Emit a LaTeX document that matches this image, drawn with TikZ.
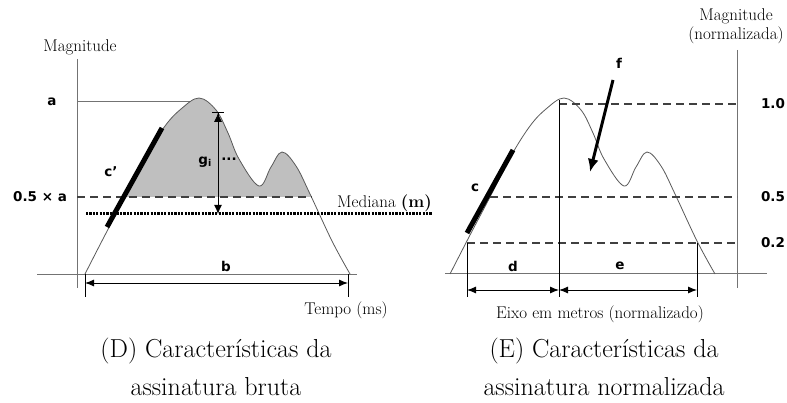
\documentclass[tikz,border=0pt]{standalone}
\usepackage{fontspec}
\newfontfamily\labelfont{DejaVu Sans}
\usetikzlibrary{arrows.meta,positioning}

\begin{document}
\begin{tikzpicture}[
    x=1pt, y=-1pt,
    axis/.style={draw=black!55, line width=0.8pt},
    sig/.style={draw=black!65, line width=0.8pt},
    sigcurve/.style={insert path={plot[smooth, tension=0.6] coordinates {(85,274) (104,237) (125,197) (146,156) (165,126) (181,109) (199,98) (216,110) (228,133) (239,159) (259,186) (271,167) (282,152) (296,166) (310,194) (332,241) (350,274)}}},
    guide/.style={draw=black!75, line width=1.2pt, dash pattern=on 8pt off 5pt},
    median/.style={draw=black, line width=3pt, dash pattern=on 2.2pt off 1.2pt},
    slope/.style={draw=black, line width=5pt},
    dimline/.style={draw=black, line width=0.9pt},
    dimarrow/.style={dimline, {Latex[length=9pt,width=7pt]}-{Latex[length=9pt,width=7pt]}},
    farrow/.style={draw=black, line width=3pt, -{Latex[length=13pt,width=11pt]}},
    lbl/.style={font=\labelfont\bfseries\fontsize{13.5}{15}\selectfont, inner sep=1pt},
    axlabel/.style={font=\fontsize{17}{19.5}\selectfont, inner sep=0pt},
    caption/.style={font=\fontsize{26}{38}\selectfont, align=center, inner sep=0pt, anchor=north}
]
\useasboundingbox (0,0) rectangle (787,403);

% (D) raw signature
\begin{scope}
  \clip (0,0) rectangle (400,197);
  \fill[gray!50, sigcurve] -- cycle;
\end{scope}
\draw[axis] (77,59) -- (77,288);
\draw[axis] (37,274) -- (357,274);
\draw[axis] (77,101) -- (190,101);
\draw[sig, sigcurve];
\draw[guide] (77,197) -- (312,197);
\draw[median] (86,214) -- (432,214);
\draw[slope] (107,227) -- (162,128);

\node[axlabel] (magD) at (80,47) {Magnitude};
\node[lbl] (a) at (52,102) {a};
\node[lbl] (halfa) at (40,197) {0.5 × a};
\node[lbl] (cprime) at (111,172) {c’};
\node[axlabel, anchor=base east] (median) at (432,208) {Mediana \textbf{(m)}};

% height g_i
\coordinate (gtop) at (218,112);
\coordinate (gbot) at (218,214);
\draw[dimline, {Bar[width=12pt]Latex[length=9pt,width=8pt]}-{Latex[length=9pt,width=8pt]}] (gtop) -- (gbot);
\node[lbl, anchor=east] (gi) at (213,162) {g\textsubscript{i}};
\node[lbl] (gdots) at (229,159) {...};

% duration b
\coordinate (bL) at (85,283);
\coordinate (bR) at (348,283);
\draw[dimline] (85,274) -- (85,297);
\draw[dimline] (348,274) -- (348,297);
\draw[dimarrow] (bL) -- (bR);
\node[lbl] (b) at (226,266) {b};
\node[axlabel] (tempo) at (346,310) {Tempo (ms)};

\node[caption] (capD) at (216,338) {(D) Características da\\assinatura bruta};

% (E) normalized signature
\draw[axis] (737,50) -- (737,288);
\draw[axis] (445,273) -- (767,273);
\draw[sig, shift={(365,0)}, sigcurve];
\draw[guide] (559,104) -- (737,104);
\draw[guide] (490,197) -- (737,197);
\draw[guide] (467,243) -- (737,243);
\draw[dimline] (559,100) -- (559,297);
\draw[dimline] (467,243) -- (467,297);
\draw[dimline] (697,243) -- (697,297);
\draw[slope] (467,233) -- (513,150);

\node[axlabel, align=center] (magE) at (736,26) {Magnitude\\(normalizada)};
\node[lbl] (one) at (773,104) {1.0};
\node[lbl] (half) at (773,197) {0.5};
\node[lbl] (fifth) at (773,243) {0.2};
\node[lbl] (c) at (475,188) {c};

% f
\node[lbl] (f) at (619,63) {f};
\coordinate (fstart) at (613,80);
\coordinate (ftip) at (590,172);
\draw[farrow] (fstart) -- (ftip);

% d and e
\coordinate (dL) at (467,290);
\coordinate (dM) at (559,290);
\coordinate (eR) at (697,290);
\draw[dimarrow] (dL) -- (dM);
\draw[dimarrow] (dM) -- (eR);
\node[lbl] (d) at (513,266) {d};
\node[lbl] (e) at (620,266) {e};
\node[axlabel] (eixo) at (600,314) {Eixo em metros (normalizado)};

\node[caption] (capE) at (604,338) {(E) Características da\\assinatura normalizada};

\end{tikzpicture}
\end{document}
